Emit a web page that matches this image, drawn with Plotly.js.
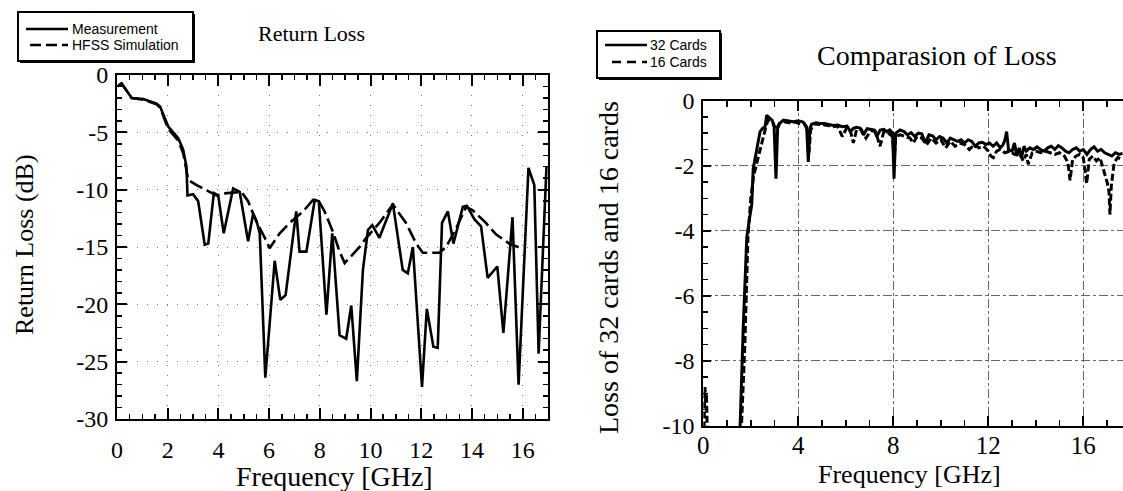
<!DOCTYPE html>
<html>
<head>
<meta charset="utf-8">
<script src="https://cdn.plot.ly/plotly-3.0.1.min.js"></script>
<style>html,body{margin:0;padding:0;background:#fff;}#chart{width:1123px;height:491px;}</style>
</head>
<body>
<div id="chart"></div>
<script>
// ---- Left chart: Return Loss ----
const freqMeas = [0.02,0.18,0.58,1.04,1.56,1.70,2.02,2.41,2.61,2.74,2.78,3.00,3.20,3.46,3.60,3.82,3.99,4.21,4.58,4.84,5.17,5.37,5.50,5.63,5.85,6.22,6.44,6.65,7.07,7.20,7.47,7.80,7.96,8.26,8.49,8.78,9.04,9.24,9.46,9.70,9.90,10.07,10.35,10.88,11.27,11.47,11.67,12.03,12.22,12.48,12.65,12.82,13.05,13.27,13.64,13.80,14.10,14.36,14.62,15.00,15.24,15.60,15.84,16.23,16.46,16.63,16.94];
const lossMeas = [-1.0,-0.73,-2.0,-2.1,-2.5,-2.75,-4.5,-5.5,-6.5,-8.0,-10.5,-10.4,-11.0,-14.8,-14.7,-10.3,-10.5,-13.8,-9.9,-10.2,-14.5,-12.1,-12.7,-13.8,-26.4,-16.2,-19.6,-19.2,-11.9,-15.4,-15.4,-10.9,-11.0,-20.9,-13.8,-22.7,-23.0,-20.1,-26.7,-17.0,-13.5,-13.1,-14.2,-11.2,-17.0,-17.3,-15.0,-27.2,-20.4,-23.7,-23.8,-12.9,-11.9,-14.7,-11.5,-11.4,-12.6,-13.2,-17.7,-16.7,-22.5,-12.4,-27.0,-8.1,-9.6,-24.3,-8.0];
const freqSim = [0.05,0.18,0.58,1.04,1.56,1.70,2.02,2.41,2.61,2.74,2.81,3.14,3.92,4.32,4.91,5.17,5.50,5.83,6.02,6.42,6.81,7.34,7.73,7.96,8.19,8.52,8.78,8.98,9.57,9.83,10.35,10.88,11.40,11.80,12.06,12.72,12.98,13.37,13.77,14.03,14.55,14.95,15.47,15.93];
const lossSim = [-0.9,-0.75,-2.0,-2.15,-2.55,-2.85,-4.7,-5.7,-6.8,-8.3,-9.15,-9.6,-10.5,-10.3,-10.2,-11.0,-12.8,-14.2,-15.1,-13.8,-12.9,-11.9,-10.9,-11.0,-11.9,-13.7,-15.4,-16.4,-15.0,-14.2,-12.9,-11.3,-12.9,-14.7,-15.5,-15.5,-15.0,-13.4,-11.5,-11.8,-12.9,-13.9,-14.7,-15.1];
const leftXTicks = [0,2,4,6,8,10,12,14,16];
const leftXText = ['0','2','4','6','8','10','12','14','16'];
const leftYTicks = [0,-5,-10,-15,-20,-25,-30];
const leftYText = ['0','-5','-10','-15','-20','-25','-30'];

// ---- Right chart: Comparasion of Loss ----
const freq32 = [1.50,1.55,1.68,1.83,1.95,2.04,2.10,2.25,2.39,2.50,2.60,2.67,2.80,2.90,2.98,3.06,3.13,3.22,3.37,3.55,3.79,4.00,4.20,4.35,4.42,4.49,4.56,4.75,4.90,5.10,5.30,5.47,5.65,5.85,6.05,6.20,6.32,6.45,6.60,6.74,6.90,7.05,7.20,7.30,7.45,7.60,7.72,7.85,7.97,8.03,8.10,8.28,8.45,8.60,8.75,8.90,9.05,9.20,9.35,9.50,9.65,9.80,9.95,10.10,10.25,10.40,10.55,10.70,10.85,11.00,11.15,11.30,11.45,11.60,11.75,11.90,12.05,12.20,12.35,12.50,12.62,12.70,12.77,12.85,13.00,13.10,13.20,13.30,13.40,13.50,13.60,13.75,13.90,14.05,14.20,14.35,14.50,14.65,14.80,14.95,15.10,15.25,15.40,15.55,15.70,15.85,16.00,16.15,16.30,16.45,16.60,16.75,16.90,17.05,17.20,17.35,17.50,17.65];
const loss32 = [-10.5,-10.0,-7.0,-4.2,-3.6,-3.2,-2.1,-1.45,-0.95,-0.85,-0.8,-0.45,-0.55,-0.6,-0.8,-2.4,-0.85,-0.7,-0.6,-0.62,-0.65,-0.62,-0.66,-0.8,-1.88,-0.85,-0.72,-0.68,-0.7,-0.7,-0.74,-0.76,-0.75,-0.8,-0.78,-0.95,-0.85,-0.82,-0.84,-1.05,-0.86,-0.88,-0.9,-1.1,-0.9,-0.88,-0.95,-0.9,-1.0,-2.4,-1.0,-0.9,-0.95,-1.05,-0.98,-1.1,-1.0,-1.02,-1.3,-1.05,-1.08,-1.2,-1.1,-1.15,-1.3,-1.15,-1.2,-1.25,-1.2,-1.3,-1.2,-1.25,-1.4,-1.3,-1.28,-1.35,-1.3,-1.4,-1.3,-1.45,-1.35,-1.2,-0.95,-1.5,-1.55,-1.3,-1.7,-1.45,-1.75,-1.4,-1.55,-1.45,-1.5,-1.42,-1.5,-1.55,-1.45,-1.4,-1.5,-1.38,-1.45,-1.55,-1.6,-1.5,-1.45,-1.55,-1.5,-1.65,-1.5,-1.42,-1.55,-1.5,-1.6,-1.65,-1.7,-1.6,-1.65,-1.62];
const freq16 = [0.00,0.04,0.07,0.10,0.13,0.16,0.22,1.55,1.60,1.75,1.88,2.00,2.12,2.22,2.35,2.50,2.62,2.72,2.85,2.95,3.05,3.20,3.40,3.60,3.85,4.05,4.25,4.38,4.45,4.52,4.65,4.85,5.05,5.25,5.45,5.65,5.85,6.05,6.20,6.32,6.45,6.65,6.85,7.05,7.25,7.44,7.60,7.80,7.97,8.03,8.10,8.30,8.50,8.70,8.84,9.00,9.20,9.40,9.60,9.80,10.00,10.20,10.40,10.60,10.80,11.00,11.20,11.40,11.60,11.80,12.00,12.10,12.21,12.35,12.50,12.70,12.90,13.10,13.30,13.47,13.60,13.68,13.85,14.00,14.20,14.40,14.60,14.80,15.00,15.20,15.35,15.44,15.55,15.70,15.85,16.00,16.14,16.25,16.40,16.55,16.70,16.85,17.00,17.08,17.12,17.18,17.30,17.45,17.60];
const loss16 = [-11,-9.6,-8.8,-9.3,-9.0,-9.9,-11,-11,-10,-7.5,-4.2,-3.0,-2.3,-2.0,-1.6,-1.2,-0.85,-0.6,-0.65,-0.7,-0.9,-0.7,-0.65,-0.68,-0.66,-0.7,-0.7,-0.9,-1.6,-0.9,-0.72,-0.72,-0.74,-0.76,-0.8,-0.78,-1.1,-0.82,-0.95,-1.3,-0.9,-0.88,-1.15,-0.92,-0.95,-1.4,-0.95,-1.0,-1.1,-1.9,-1.1,-1.05,-1.1,-1.15,-1.3,-1.1,-1.15,-1.35,-1.15,-1.3,-1.2,-1.45,-1.25,-1.4,-1.3,-1.35,-1.5,-1.35,-1.45,-1.4,-1.55,-1.7,-1.75,-1.55,-1.5,-1.6,-1.55,-1.65,-1.6,-1.85,-1.65,-1.95,-1.6,-1.55,-1.6,-1.55,-1.6,-1.65,-1.6,-1.7,-1.9,-2.45,-1.8,-1.7,-1.65,-1.75,-2.55,-1.8,-1.7,-1.85,-1.75,-2.1,-2.5,-2.8,-3.5,-2.6,-1.9,-1.75,-1.8];
const rightXTicks = [0,4,8,12,16];
const rightXText = ['0','4','8','12','16'];
const rightYTicks = [0,-2,-4,-6,-8,-10];
const rightYText = ['0','-2','-4','-6','-8','-10'];

const W = 1123, H = 491;
const px = v => v / W;
const py = v => 1 - v / H;
const serif = "'Liberation Serif', 'Times New Roman', serif";
const sans = "'Liberation Sans', Arial, sans-serif";

const traces = [
  {x: freqMeas, y: lossMeas, name: 'Measurement', mode: 'lines', xaxis: 'x', yaxis: 'y',
   line: {color: '#000', width: 2.6}},
  {x: freqSim, y: lossSim, name: 'HFSS Simulation', mode: 'lines', xaxis: 'x', yaxis: 'y',
   line: {color: '#000', width: 2.6, dash: '14px,5px'}},
  {x: freq32, y: loss32, name: '32 Cards', mode: 'lines', xaxis: 'x2', yaxis: 'y2',
   line: {color: '#000', width: 3}},
  {x: freq16, y: loss16, name: '16 Cards', mode: 'lines', xaxis: 'x2', yaxis: 'y2',
   line: {color: '#000', width: 3, dash: '7px,3px'}}
];

const axBase = {
  showline: true, linecolor: '#000', linewidth: 2, ticks: 'inside', tickcolor: '#000',
  tickwidth: 2, zeroline: false, showgrid: true, fixedrange: true, tickmode: 'array'
};

// legend drawn as shapes + text so box and samples match the reference
function legendShapes(x0, y0, x1, y1, rows) {
  const s = [
    {type: 'rect', xref: 'paper', yref: 'paper', x0: px(x0 + 2), x1: px(x1 + 2), y0: py(y0 + 2), y1: py(y1 + 2),
     fillcolor: '#000', line: {width: 0}, layer: 'above'},
    {type: 'rect', xref: 'paper', yref: 'paper', x0: px(x0), x1: px(x1), y0: py(y0), y1: py(y1),
     fillcolor: '#fff', line: {color: '#000', width: 2}, layer: 'above'}
  ];
  rows.forEach(r => s.push({type: 'line', xref: 'paper', yref: 'paper', x0: px(r.sx0), x1: px(r.sx1), y0: py(r.y), y1: py(r.y),
     line: {color: '#000', width: 2.5, dash: r.dash}, layer: 'above'}));
  return s;
}
const legRowsL = [{sx0: 26, sx1: 68, y: 29, dash: 'solid'}, {sx0: 30, sx1: 68, y: 45, dash: '11px,5px'}];
const legRowsR = [{sx0: 605, sx1: 647, y: 45, dash: 'solid'}, {sx0: 612, sx1: 647, y: 62, dash: '9px,6px'}];

const layout = {
  width: W, height: H,
  margin: {l: 0, r: 0, t: 0, b: 0},
  paper_bgcolor: '#fff', plot_bgcolor: '#fff',
  showlegend: false,
  xaxis: Object.assign({}, axBase, {
    domain: [px(117), px(548)], range: [0, 17], tickvals: leftXTicks, ticktext: leftXText, ticklen: 11,
    mirror: 'ticks', gridcolor: '#777', gridwidth: 1, griddash: '1px,9px',
    tickfont: {family: serif, size: 24, color: '#000'}, ticklabelstandoff: 8,
    minor: {dtick: 0.5, ticklen: 5, ticks: 'inside', tickcolor: '#000', tickwidth: 1.5, showgrid: false},
    anchor: 'y'
  }),
  yaxis: Object.assign({}, axBase, {
    domain: [1 - 419 / H, 1 - 75 / H], range: [-30, 0], tickvals: leftYTicks, ticktext: leftYText, ticklen: 10,
    mirror: 'ticks', gridcolor: '#777', gridwidth: 1, griddash: '1px,9px',
    tickfont: {family: serif, size: 24, color: '#000'}, ticklabelstandoff: 2,
    minor: {dtick: 1, ticklen: 5, ticks: 'inside', tickcolor: '#000', tickwidth: 1.5, showgrid: false},
    anchor: 'x'
  }),
  xaxis2: Object.assign({}, axBase, {
    domain: [px(703.3), 1], range: [0, 17.67], tickvals: rightXTicks, ticktext: rightXText, ticklen: 10,
    mirror: 'ticks', gridcolor: '#666', gridwidth: 1, griddash: 'dashdot',
    tickfont: {family: serif, size: 25, color: '#000'}, ticklabelstandoff: -4,
    minor: {dtick: 1, ticklen: 6, ticks: 'inside', tickcolor: '#000', tickwidth: 1.5, showgrid: false},
    anchor: 'y2'
  }),
  yaxis2: Object.assign({}, axBase, {
    domain: [1 - 426 / H, 1 - 100.7 / H], range: [-10, 0], tickvals: rightYTicks, ticktext: rightYText, ticklen: 8,
    mirror: false, gridcolor: '#666', gridwidth: 1, griddash: 'dashdot',
    tickfont: {family: serif, size: 24, color: '#000'}, ticklabelstandoff: 2,
    minor: {dtick: 0.5, ticklen: 5, ticks: 'inside', tickcolor: '#000', tickwidth: 1.5, showgrid: false},
    anchor: 'x2'
  }),
  shapes: legendShapes(18, 12, 193, 61, legRowsL).concat(legendShapes(597, 31, 720, 78, legRowsR)),
  annotations: [
    {text: 'Measurement', x: px(70), y: py(29), xref: 'paper', yref: 'paper', showarrow: false,
     xanchor: 'left', yanchor: 'middle', font: {family: sans, size: 14, color: '#000'}},
    {text: 'HFSS Simulation', x: px(70), y: py(45), xref: 'paper', yref: 'paper', showarrow: false,
     xanchor: 'left', yanchor: 'middle', font: {family: sans, size: 14, color: '#000'}},
    {text: '32 Cards', x: px(648), y: py(45), xref: 'paper', yref: 'paper', showarrow: false,
     xanchor: 'left', yanchor: 'middle', font: {family: sans, size: 14, color: '#000'}},
    {text: '16 Cards', x: px(648), y: py(62), xref: 'paper', yref: 'paper', showarrow: false,
     xanchor: 'left', yanchor: 'middle', font: {family: sans, size: 14, color: '#000'}},
    {text: 'Return Loss', x: px(311), y: py(34), xref: 'paper', yref: 'paper', showarrow: false,
     xanchor: 'center', yanchor: 'middle', font: {family: serif, size: 22, color: '#000'}},
    {text: 'Comparasion of Loss', x: px(937), y: py(55), xref: 'paper', yref: 'paper', showarrow: false,
     xanchor: 'center', yanchor: 'middle', font: {family: serif, size: 28, color: '#000'}},
    {text: 'Frequency [GHz]', x: px(334), y: py(476), xref: 'paper', yref: 'paper', showarrow: false,
     xanchor: 'center', yanchor: 'middle', font: {family: serif, size: 28, color: '#000'}},
    {text: 'Frequency [GHz]', x: px(909), y: py(490), xref: 'paper', yref: 'paper', showarrow: false,
     xanchor: 'center', yanchor: 'bottom', borderpad: 0, font: {family: serif, size: 26, color: '#000'}},
    {text: 'Return Loss (dB)', x: px(24), y: py(245), xref: 'paper', yref: 'paper', showarrow: false,
     textangle: -90, xanchor: 'center', yanchor: 'middle', font: {family: serif, size: 26, color: '#000'}},
    {text: 'Loss of 32 cards and 16 cards', x: px(608), y: py(268), xref: 'paper', yref: 'paper', showarrow: false,
     textangle: -90, xanchor: 'center', yanchor: 'middle', font: {family: serif, size: 28, color: '#000'}}
  ]
};

Plotly.newPlot('chart', traces, layout, {staticPlot: true, displayModeBar: false});
</script>
</body>
</html>
